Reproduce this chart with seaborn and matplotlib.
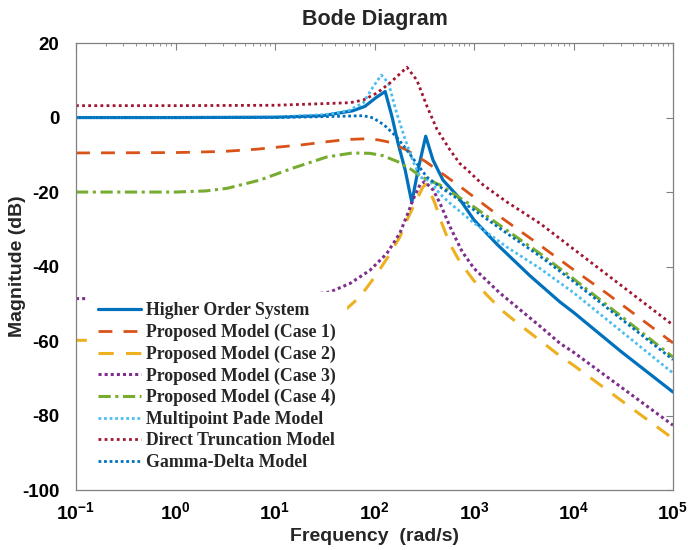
import matplotlib
matplotlib.use('Agg')
import matplotlib.pyplot as plt
import seaborn as sns
from matplotlib.ticker import FixedLocator, LogLocator, NullFormatter

# values: frequency (rad/s) and magnitude (dB)
hos_w = [0.1, 1, 10, 30, 60, 80, 104, 128, 150, 172, 203, 237, 274, 327, 387, 488, 680,
         1000, 1700, 3660, 7300, 10000, 30000, 100000]
hos_db = [0.0, 0.0, 0.1, 0.5, 1.8, 3.0, 5.4, 7.0, 0.2, -6.8, -14.0, -22.8, -14.0, -5.0, -11.4,
          -16.8, -21.0, -27.5, -34.0, -42.5, -49.5, -52.3, -62.8, -73.7]

c1_w = [0.1, 1, 3, 6.5, 11, 19, 33, 52, 80, 110, 140, 210, 330, 531, 811, 1194, 1824,
        4100, 9600, 21600, 100000]
c1_db = [-9.5, -9.4, -9.1, -8.5, -7.9, -7.3, -6.5, -5.9, -5.7, -6.0, -6.6, -8.7, -11.9,
         -15.9, -19.5, -22.9, -26.6, -33.3, -40.5, -47.2, -60.5]

c2_w = [0.1, 1, 10, 20, 30, 50.6, 71.5, 101, 137, 180, 212, 255, 307, 334, 405, 473, 574,
        723, 984, 1342, 1955, 2897, 7310, 10000, 100000]
c2_db = [-59.8, -59.8, -59.3, -57.8, -55.5, -51.7, -48.1, -42.7, -37.4, -32.0, -27.5, -23.0,
         -18.6, -17.9, -23.0, -28.3, -34.0, -38.8, -43.6, -47.6, -52.0, -55.7, -64.0, -66.5,
         -86.2]

c3_w = [0.1, 1, 10, 20, 36, 57, 90, 133, 180, 217, 244, 287, 320, 390, 455, 574, 760,
        1000, 1800, 4600, 7300, 10000, 100000]
c3_db = [-48.6, -48.6, -48.3, -47.8, -46.8, -44.5, -41.0, -36.5, -31.0, -25.6, -22.0, -18.0,
         -17.2, -19.5, -23.0, -29.3, -36.0, -40.5, -47.0, -56.0, -60.6, -63.0, -82.6]

c4_w = [0.1, 1, 2, 3.3, 7, 15, 33, 60, 90, 120, 170, 230, 300, 455, 1000, 2120, 4600,
        10000, 100000]
c4_db = [-20.0, -20.0, -19.7, -19.0, -16.8, -13.6, -10.6, -9.5, -9.6, -10.2, -11.8, -13.8,
         -16.0, -18.1, -24.0, -30.2, -36.5, -43.3, -64.3]

mp_w = [0.1, 1, 10, 36, 55, 77, 97, 117, 138, 167, 204, 246, 288, 360, 455, 574, 1000,
        2120, 4600, 10000, 100000]
mp_db = [0.0, 0.0, 0.1, 0.9, 1.9, 3.9, 8.3, 11.4, 9.3, 1.2, -6.0, -12.0, -16.0, -17.0,
         -20.5, -23.0, -28.3, -34.7, -40.5, -47.0, -68.6]

dt_w = [0.1, 1, 10, 36, 57, 77, 106, 143, 212, 267, 337, 425, 574, 718, 851, 1237, 2120,
        4600, 10000, 100000]
dt_db = [3.2, 3.2, 3.3, 3.8, 4.0, 4.7, 6.6, 9.3, 13.5, 10.0, 3.0, -3.2, -8.7, -12.3, -14.0,
         -18.1, -22.6, -28.4, -35.3, -55.7]

gd_w = [0.1, 1, 10, 40, 77, 97, 125, 167, 211, 265, 337, 455, 1000, 2120, 4600, 10000,
        100000]
gd_db = [0.0, 0.0, 0.0, 0.3, 0.5, -0.1, -2.0, -5.2, -8.7, -12.3, -16.0, -18.6, -24.8,
         -31.0, -37.2, -44.0, -65.0]

labels = ['Higher Order System', 'Proposed Model (Case 1)', 'Proposed Model (Case 2)',
          'Proposed Model (Case 3)', 'Proposed Model (Case 4)', 'Multipoint Pade Model',
          'Direct Truncation Model', 'Gamma-Delta Model']
data = [(hos_w, hos_db), (c1_w, c1_db), (c2_w, c2_db), (c3_w, c3_db), (c4_w, c4_db),
        (mp_w, mp_db), (dt_w, dt_db), (gd_w, gd_db)]

# matlab default colours, line styles
styles = [
    ('#0072BD', '-', 2.3),
    ('#D95319', (0, (5, 4)), 2.0),
    ('#EDB120', (0, (5, 4)), 2.2),
    ('#7E2F8E', (0, (1, 1)), 2.2),
    ('#77AC30', (0, (4, 1.5, 1, 1.5)), 2.2),
    ('#4DBEEE', (0, (1, 1)), 2.0),
    ('#A2142F', (0, (1, 1.2)), 2.0),
    ('#0072BD', (0, (1, 1)), 2.0),
]

xticks = [0.1, 1, 10, 100, 1000, 10000, 100000]
xticklabels = [r'$\mathbf{10^{-1}}$', r'$\mathbf{10^{0}}$', r'$\mathbf{10^{1}}$',
               r'$\mathbf{10^{2}}$', r'$\mathbf{10^{3}}$', r'$\mathbf{10^{4}}$',
               r'$\mathbf{10^{5}}$']
yticks = [-100, -80, -60, -40, -20, 0, 20]

sns.set_style('white')
plt.rcParams['font.family'] = ['Liberation Sans', 'DejaVu Sans']
plt.rcParams['font.weight'] = 'bold'
plt.rcParams['mathtext.fontset'] = 'custom'
plt.rcParams['mathtext.bf'] = 'Liberation Sans:bold'
plt.rcParams['mathtext.rm'] = 'Liberation Sans:bold'
plt.rcParams['mathtext.default'] = 'bf'

fig = plt.figure(figsize=(6.88, 5.5), dpi=100)
ax = fig.add_axes([0.1105, 0.109, 0.8677, 0.8127])

for (w, db), name, (col, ls, lw) in zip(data, labels, styles):
    sns.lineplot(x=w, y=db, ax=ax, color=col, linestyle=ls, linewidth=lw, label=name,
                 estimator=None, errorbar=None, sort=False)

ax.set_xscale('log')
ax.set_xlim(0.1, 100000)
ax.set_ylim(-100, 20)
ax.xaxis.set_major_locator(FixedLocator(xticks))
ax.set_xticklabels(xticklabels)
ax.xaxis.set_minor_locator(LogLocator(base=10, subs=range(2, 10), numticks=20))
ax.xaxis.set_minor_formatter(NullFormatter())
ax.set_yticks(yticks)
ax.set_yticklabels([str(v) for v in yticks])

ax.tick_params(which='both', direction='in', top=True, right=True, color='#808080',
               labelcolor='black')
ax.tick_params(axis='x', labelsize=14, pad=8)
ax.tick_params(axis='y', labelsize=13.5, pad=12)
ax.tick_params(which='major', length=5, width=0.8)
ax.tick_params(which='minor', length=2.5, width=0.6)
for sp in ax.spines.values():
    sp.set_color('#808080')
    sp.set_linewidth(0.9)

ax.set_xlabel('Frequency  (rad/s)', fontsize=14, fontweight='bold')
ax.set_ylabel('Magnitude (dB)', fontsize=14, fontweight='bold')
ax.xaxis.set_label_coords(0.5, -0.105)
ax.xaxis.label.set_va('center')
ax.yaxis.set_label_coords(-0.098, 0.5)
ax.yaxis.label.set_va('center')
fig.text(0.5443, 1 - 20 / 550, 'Bode Diagram', ha='center', va='center', fontsize=15.5,
         fontweight='bold')

# white legend box hides the curves behind it, as in the original
leg = ax.legend(loc='upper left', bbox_to_anchor=(0.019, 0.4436), borderaxespad=0,
                borderpad=0.6, labelspacing=0.25, handlelength=2.4, handletextpad=0.3,
                frameon=True, fancybox=False, framealpha=1,
                prop={'family': 'Liberation Serif', 'weight': 'bold', 'size': 12.8})
leg.get_frame().set_facecolor('white')
leg.get_frame().set_edgecolor('white')

fig.savefig('out.png', dpi=100)
plt.close('all')
